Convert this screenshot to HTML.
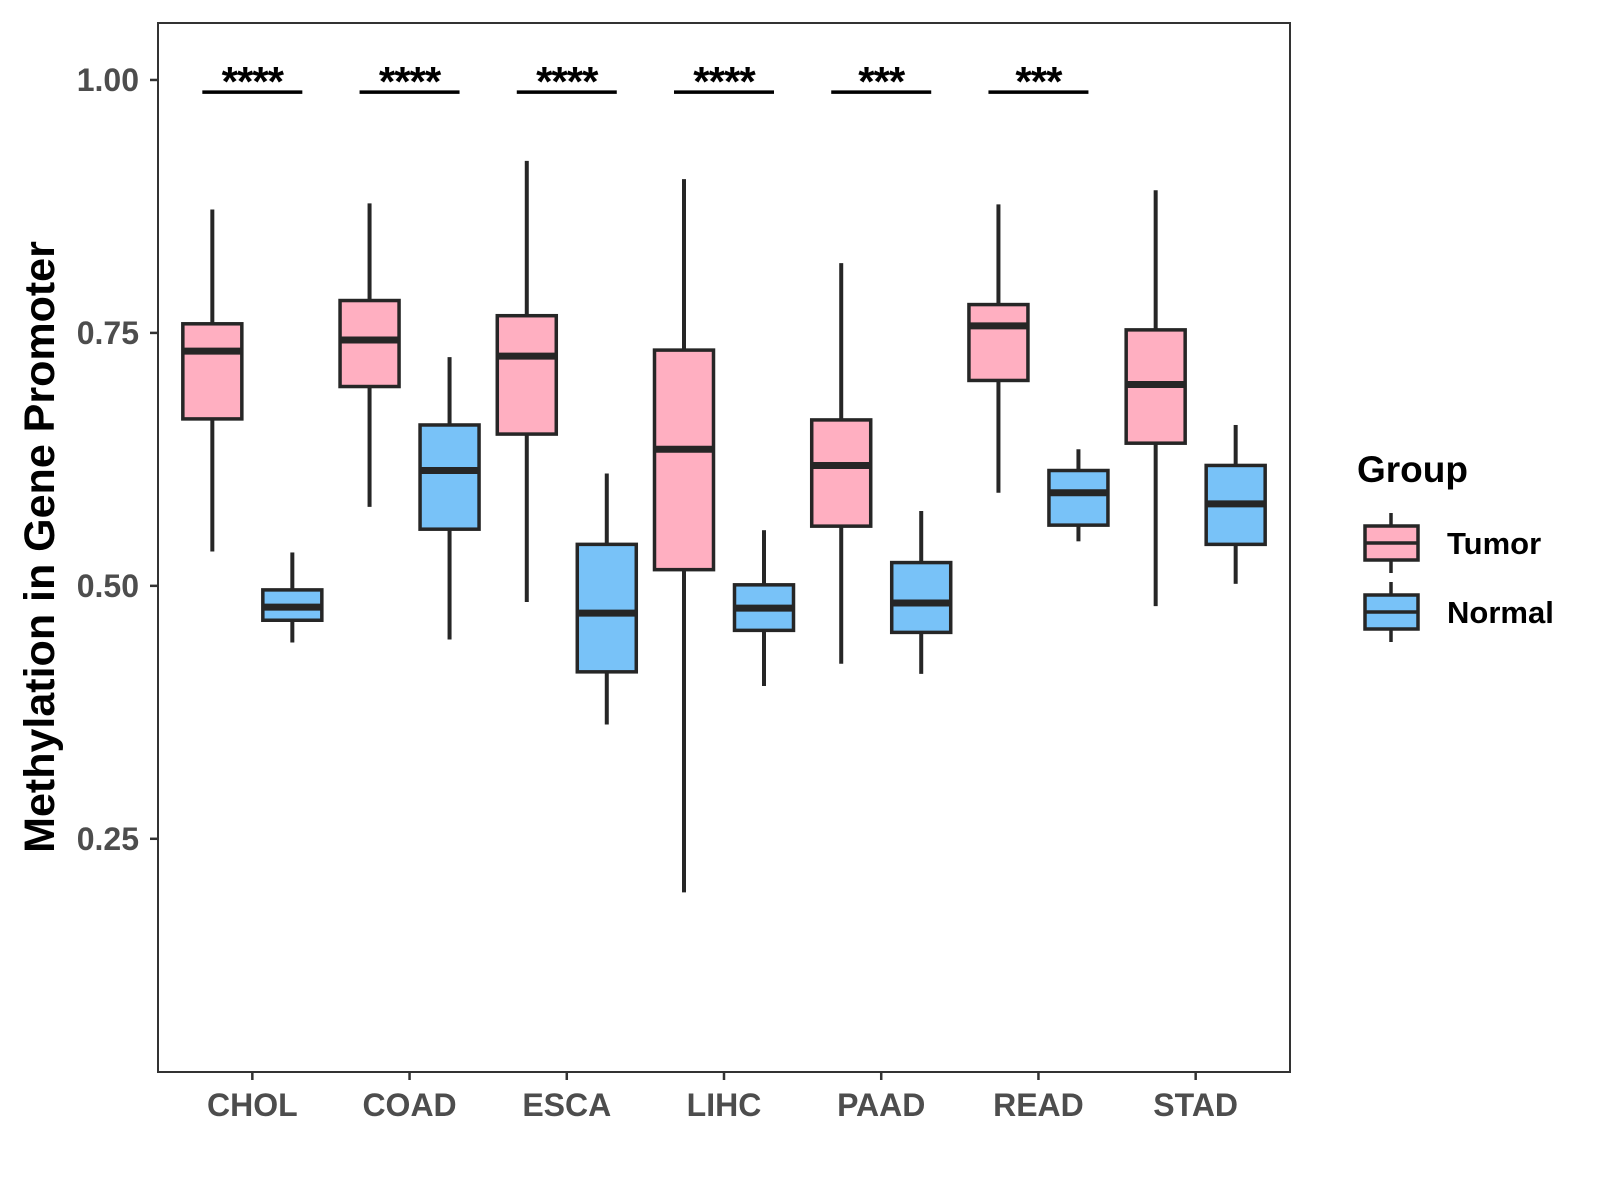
<!DOCTYPE html>
<html><head><meta charset="utf-8"><style>
html,body{margin:0;padding:0;background:#fff;}
svg{display:block;font-family:"Liberation Sans",Arial,sans-serif;}
</style></head><body>
<svg id="chart" width="1600" height="1200" viewBox="0 0 1600 1200">
<rect x="0" y="0" width="1600" height="1200" fill="#fff"/>
<g id="plot"></g>
</svg>
<script>
const categories=["CHOL","COAD","ESCA","LIHC","PAAD","READ","STAD"];
const tumorLow=[0.534,0.578,0.484,0.197,0.423,0.592,0.480];
const tumorQ1=[0.665,0.697,0.650,0.516,0.559,0.703,0.641];
const tumorMed=[0.732,0.743,0.727,0.635,0.619,0.757,0.699];
const tumorQ3=[0.759,0.782,0.767,0.733,0.664,0.778,0.753];
const tumorHigh=[0.872,0.878,0.920,0.902,0.819,0.877,0.891];
const normalLow=[0.444,0.447,0.363,0.401,0.413,0.544,0.502];
const normalQ1=[0.466,0.556,0.415,0.456,0.454,0.560,0.541];
const normalMed=[0.479,0.614,0.473,0.478,0.483,0.592,0.581];
const normalQ3=[0.496,0.659,0.541,0.501,0.523,0.614,0.619];
const normalHigh=[0.533,0.726,0.611,0.555,0.574,0.635,0.659];
const sigLabels=["****","****","****","****","***","***"];
const sigLevel=0.988;
const yTicks=[0.25,0.50,0.75,1.00];
const yTickLabels=["0.25","0.50","0.75","1.00"];

const NS="http://www.w3.org/2000/svg";
const g=document.getElementById('plot');
const L=158,R=1290,T=23,B=1072;
const yMin=0.0195,yMax=1.0563;
function y(v){return B-(v-yMin)/(yMax-yMin)*(B-T);}
const step=(R-L)/(categories.length-1+1.2);
function x(i){return L+step*(0.6+i);}
function el(tag,attrs,text){const e=document.createElementNS(NS,tag);for(const k in attrs)e.setAttribute(k,attrs[k]);if(text!==undefined)e.textContent=text;g.appendChild(e);return e;}

const panel=el('rect',{x:L,y:T,width:R-L,height:B-T,fill:'none',stroke:'#333',"stroke-width":2});



yTicks.forEach((v,i)=>{
  const t=el('line',{x1:L-8,x2:L,y1:y(v),y2:y(v),stroke:'#333',"stroke-width":2.5});
  
  
  const lb=el('text',{x:L-19,y:y(v)+11,"text-anchor":"end","font-size":32,"font-weight":"bold",fill:'#4d4d4d'},yTickLabels[i]);
  
  
});
categories.forEach((c,i)=>{
  const t=el('line',{x1:x(i),x2:x(i),y1:B,y2:B+8,stroke:'#333',"stroke-width":2.5});
  
  
  const lb=el('text',{x:x(i),y:B+44,"text-anchor":"middle","font-size":32,"font-weight":"bold",fill:'#4d4d4d'},c);
  
  
});
const yt=el('text',{x:0,y:0,transform:'translate(54,547) rotate(-90)',"text-anchor":"middle","font-size":43,"font-weight":"bold",fill:'#000'},"Methylation in Gene Promoter");



const off=40,bw=59;
function box(cx,lo,q1,md,q3,hi,fill,name){
  const w1=el('line',{x1:cx,x2:cx,y1:y(hi),y2:y(q3),stroke:'#262626',"stroke-width":4});
  
  
  const w2=el('line',{x1:cx,x2:cx,y1:y(q1),y2:y(lo),stroke:'#262626',"stroke-width":4});
  
  
  const r=el('rect',{x:cx-bw/2,y:y(q3),width:bw,height:y(q1)-y(q3),fill:fill,stroke:'#262626',"stroke-width":3.5});
  
  
  const m=el('line',{x1:cx-bw/2,x2:cx+bw/2,y1:y(md),y2:y(md),stroke:'#262626',"stroke-width":7});
  
  
}
categories.forEach((c,i)=>{
  box(x(i)-off,tumorLow[i],tumorQ1[i],tumorMed[i],tumorQ3[i],tumorHigh[i],'#ffafc1','tumor-'+c.toLowerCase());
  box(x(i)+off,normalLow[i],normalQ1[i],normalMed[i],normalQ3[i],normalHigh[i],'#78c2f8','normal-'+c.toLowerCase());
});
sigLabels.forEach((s,i)=>{
  const ln=el('line',{x1:x(i)-50,x2:x(i)+50,y1:y(sigLevel),y2:y(sigLevel),stroke:'#000',"stroke-width":3.5});
  
  
  const tx=el('text',{x:x(i),y:y(sigLevel)+4,"text-anchor":"middle","font-size":42,"font-weight":"bold",fill:'#000',"letter-spacing":"-1"},s);
  
  
});

const lt=el('text',{x:1357,y:482,"font-size":37,"font-weight":"bold",fill:'#000'},"Group");


[["Tumor","#ffafc1",543],["Normal","#78c2f8",612]].forEach(([n,f,cy])=>{
  const k=el('line',{x1:1391,x2:1391,y1:cy-30,y2:cy+30,stroke:'#262626',"stroke-width":3.5});
  
  
  const r=el('rect',{x:1365,y:cy-17,width:53,height:34,fill:f,stroke:'#262626',"stroke-width":3.5});
  
  
  const m=el('line',{x1:1365,x2:1418,y1:cy,y2:cy,stroke:'#262626',"stroke-width":3.5});
  
  
  const t=el('text',{x:1447,y:cy+11,"font-size":31,"font-weight":"bold",fill:'#000'},n);
  
  
});
</script>
</body></html>
